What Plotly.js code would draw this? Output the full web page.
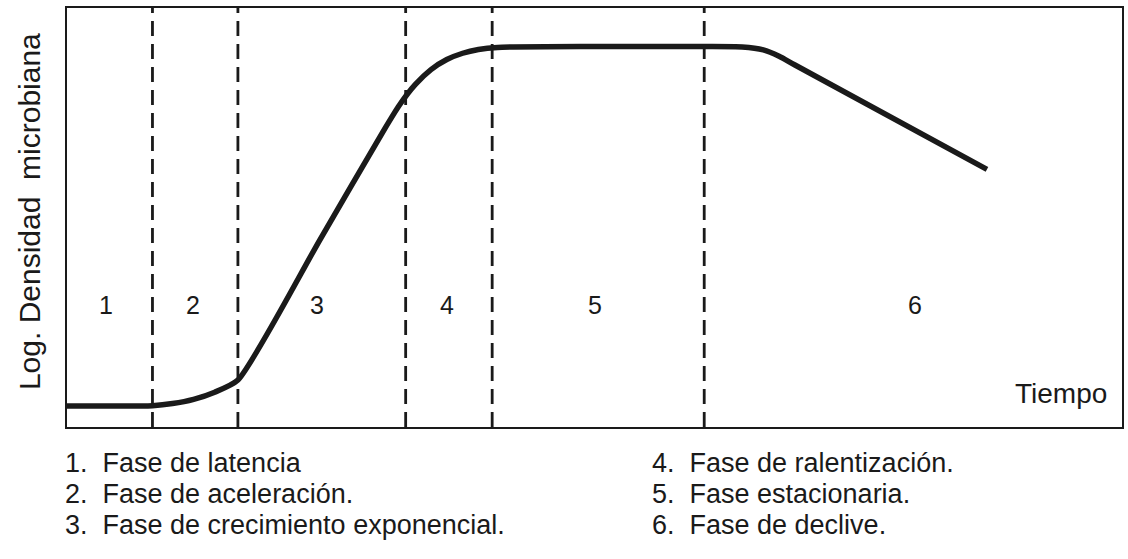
<!DOCTYPE html>
<html>
<head>
<meta charset="utf-8">
<script src="https://cdn.plot.ly/plotly-3.0.1.min.js"></script>
<style>
  html, body { margin: 0; padding: 0; background: #fff; }
  #chart { width: 1128px; height: 559px; }
</style>
</head>
<body>
<div id="chart"></div>
<script>
// Growth curve: time (arbitrary units) vs log of microbial density
const timeVals   = [0, 4, 8.1, 10, 12, 14, 16.2, 24, 30, 31.5, 33, 34.5, 36, 37.5, 39, 40.8, 50, 60.4, 64, 66, 67.5, 69, 87.2];
const logDensity = [5.0, 5.0, 5.1, 5.6, 6.6, 8.3, 11.2, 44.8, 70.7, 76.8, 81.7, 85.3, 87.7, 89.2, 90.1, 90.6, 90.8, 90.8, 90.7, 90.0, 88.5, 86.4, 61.5];

// Boundaries between phases
const phaseBounds = [8.1, 16.2, 32.1, 40.3, 60.4];

// Phase numbers placed inside each region
const phaseLabels = ["1", "2", "3", "4", "5", "6"];
const phaseLabelX = [3.7, 11.9, 23.7, 36.0, 50.0, 80.4];
const phaseLabelY = 29.1;

// Key below the plot
const legendLeft  = ["1.  Fase de latencia", "2.  Fase de aceleración.", "3.  Fase de crecimiento exponencial."];
const legendRight = ["4.  Fase de ralentización.", "5.  Fase estacionaria.", "6.  Fase de declive."];

const yTitle = "Log. Densidad  microbiana";
const xTitle = "Tiempo";

const FONT = "Liberation Sans, Arial, Helvetica, sans-serif";
const INK = "#1a1a1a";

const curve = {
  x: timeVals,
  y: logDensity,
  type: "scatter",
  mode: "lines",
  line: { color: INK, width: 5.5, shape: "spline", smoothing: 0.6 },
  hoverinfo: "skip",
  showlegend: false
};

const shapes = phaseBounds.map(b => ({
  type: "line",
  xref: "x", yref: "paper",
  x0: b, x1: b, y0: 0, y1: 1,
  line: { color: INK, width: 2.8, dash: "15px,8px" },
  layer: "below"
}));

const annotations = [];
phaseLabels.forEach((t, i) => {
  annotations.push({
    x: phaseLabelX[i], y: phaseLabelY, xref: "x", yref: "y",
    text: t, showarrow: false,
    font: { family: FONT, size: 25, color: INK }
  });
});

// key rows, paper units below the plot area
const rowY = [-0.086, -0.160, -0.234];
const keyFont = { family: FONT, size: 27, color: INK };
legendLeft.forEach((t, i) => {
  annotations.push({
    x: -0.004, y: rowY[i], xref: "paper", yref: "paper",
    xanchor: "left", yanchor: "middle",
    text: t, showarrow: false, font: keyFont
  });
});
legendRight.forEach((t, i) => {
  annotations.push({
    x: 0.553, y: rowY[i], xref: "paper", yref: "paper",
    xanchor: "left", yanchor: "middle",
    text: t, showarrow: false, font: keyFont
  });
});

annotations.push({
  x: 98.8, y: 8.1, xref: "x", yref: "y",
  xanchor: "right", yanchor: "middle",
  text: xTitle, showarrow: false,
  font: { family: FONT, size: 28, color: INK }
});

annotations.push({
  x: -0.036, y: 0.513, xref: "paper", yref: "paper",
  xanchor: "center", yanchor: "middle",
  textangle: -90,
  text: yTitle, showarrow: false,
  font: { family: FONT, size: 30, color: INK }
});

const axisStyle = {
  showline: true, mirror: true, linecolor: INK, linewidth: 2,
  showgrid: false, zeroline: false, showticklabels: false, ticks: "",
  fixedrange: true
};

const layout = {
  width: 1128, height: 559,
  margin: { l: 67, r: 6, t: 8, b: 132 },
  paper_bgcolor: "#ffffff",
  plot_bgcolor: "#ffffff",
  xaxis: Object.assign({ range: [0, 100] }, axisStyle),
  yaxis: Object.assign({ range: [0, 100] }, axisStyle),
  shapes: shapes,
  annotations: annotations,
  showlegend: false
};

Plotly.newPlot("chart", [curve], layout, { staticPlot: true, displayModeBar: false });
</script>
</body>
</html>
